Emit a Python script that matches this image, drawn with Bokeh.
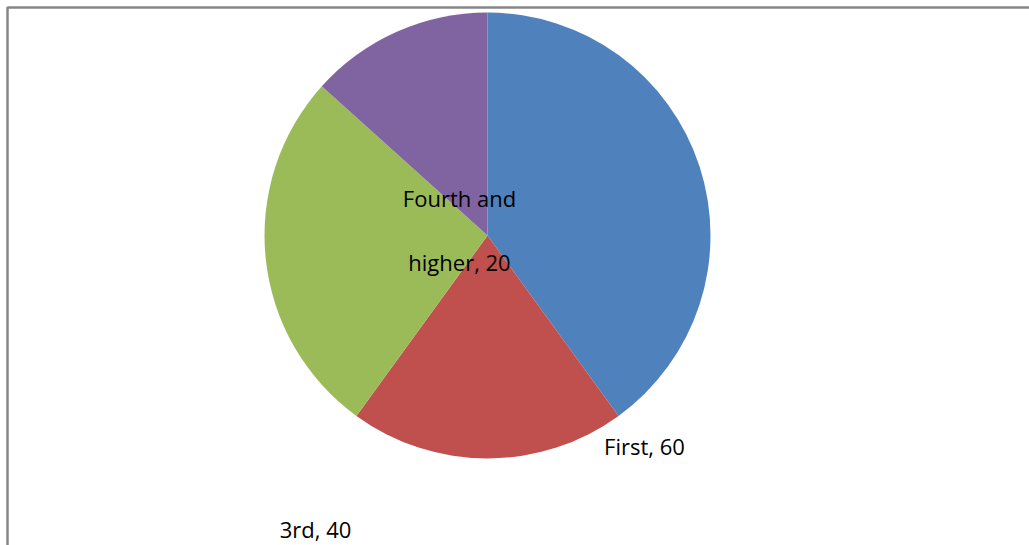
import math
from bokeh.plotting import figure
from bokeh.models import Range1d, ColumnDataSource
from bokeh.core.properties import value
from bokeh.embed import file_html
from bokeh.resources import INLINE

categories = ["First", "Second", "3rd", "Fourth and higher"]
values = [60, 30, 40, 20]
colors = ["#4F81BD", "#C0504D", "#9BBB59", "#8064A2"]

W, H = 1029, 545
p = figure(width=W, height=H, output_backend="svg", toolbar_location=None,
           x_range=Range1d(0, W), y_range=Range1d(0, H), min_border=0,
           outline_line_color=None)
p.axis.visible = False
p.grid.visible = False

# chart frame (only top and left edges visible in window)
p.quad(left=[7], right=[W + 50], top=[H - 7], bottom=[-50],
       fill_color=None, line_color="#868686", line_width=2.5)

cx, cy, r = 487, H - 235, 223
total = sum(values)
starts, ends = [], []
a = math.pi / 2
for v in values:
    starts.append(a)
    a -= 2 * math.pi * v / total
    ends.append(a)

src = ColumnDataSource(dict(start=starts, end=ends, color=colors))
p.wedge(x=cx, y=cy, radius=r, start_angle="start", end_angle="end",
        direction="clock", fill_color="color", line_color=None, source=src)

# data labels (Second label falls outside the visible window)
label_pos = {"First": [(644, H - 445)], "3rd": [(315, H - 528)],
             "Fourth and higher": [(459, H - 197), (459, H - 261)]}
lx, ly, lt = [], [], []
for c, v in zip(categories, values):
    if c not in label_pos:
        continue
    text = f"{c}, {v}"
    if c == "Fourth and higher":
        parts = ["Fourth and", f"higher, {v}"]
    else:
        parts = [text]
    for (x, y), t in zip(label_pos[c], parts):
        lx.append(x); ly.append(y); lt.append(t)

p.text(x=lx, y=ly, text=lt, text_font=value("Open Sans"), text_font_size="22px",
       text_color="#000000", text_align="center", text_baseline="middle")

open("out.html", "w").write(file_html(p, INLINE))
